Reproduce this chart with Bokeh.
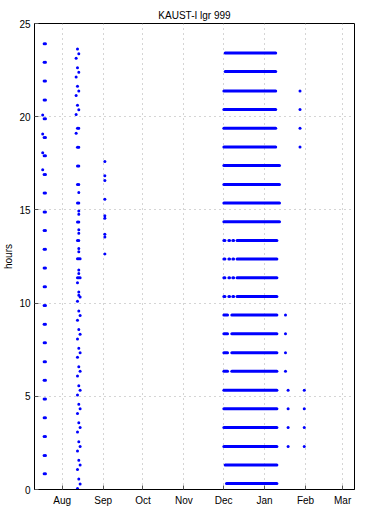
from bokeh.plotting import figure
from bokeh.models import FixedTicker, Range1d, ColumnDataSource
from bokeh.embed import file_html
from bokeh.resources import INLINE

# x values are days counted from 1 July
month_ticks = [31, 62, 92, 123, 153, 184, 215, 243]
month_labels = ["Aug", "Sep", "Oct", "Nov", "Dec", "Jan", "Feb", "Mar"]
hour_ticks = [0, 5, 10, 15, 20, 25]

# July column
jul_days_a = 17.3
jul_days_b = 18.3
jul_hours = [23.92, 22.92, 21.92, 20.90, 19.89, 18.89, 17.90, 16.90, 15.90, 14.89,
             13.89, 12.89, 11.88, 10.88, 9.87, 8.87, 7.87, 6.85, 5.86, 4.86,
             3.85, 2.85, 1.83, 0.84]
jul16_day = 16.2
jul16_hours = [20.09, 19.07, 18.07, 17.16]

# August column
aug_a_day = 41.5
aug_a_hours = [23.13, 22.13, 21.14, 20.12, 19.11]
aug_b_day = 42.5
aug_b_hours = [23.63, 22.63, 21.63, 20.62, 19.38, 18.36, 17.36, 16.36, 15.37, 14.35,
               13.36, 12.38, 11.36, 11.09, 10.10, 9.08, 8.08, 7.09, 6.09, 5.07,
               4.08, 3.08, 2.07, 1.07, 0.05]
aug_c_day = 43.5
aug_c_hours = [23.38, 22.38, 21.38, 20.37, 19.38, 18.36, 17.36, 16.36, 15.94, 15.37,
               14.94, 14.76, 14.35, 13.93, 13.75, 13.36, 12.93, 12.75, 12.38, 11.77,
               11.59, 11.36, 10.59, 10.42, 9.58, 8.58, 7.58, 6.59, 5.57, 4.58,
               3.58, 2.56, 1.57, 0.57]
aug_d_day = 44.5
aug_d_hours = [12.38, 11.36, 10.33, 9.33, 8.33, 7.33, 6.34, 5.32, 4.33, 3.33,
               2.31, 1.32, 0.30]

# September column
sep_day = 63.2
sep_hours = [17.59, 16.83, 16.58, 15.57, 14.68, 14.55, 13.70, 13.55, 12.64]

# January extras
jan_a_day = 199.8
jan_a_hours = [9.36, 8.35, 7.33, 6.34]
jan_b_day = 201.8
jan_b_hours = [5.33, 4.33, 3.33, 2.31]
jan_c_day = 210.8
jan_c_hours = [21.38, 20.39, 19.38, 18.38]
jan_d_day = 214.0
jan_d_hours = [5.33, 4.33, 3.33, 2.31]

# December-January daily runs (hour, first day, last day)
seg_hour = [23.42, 22.42, 21.38, 20.39, 19.38, 18.38, 17.38, 16.36, 15.37, 14.37,
            13.36, 13.36, 13.36, 13.36, 12.36, 12.36, 12.36, 12.36,
            11.36, 11.36, 11.36, 11.36, 10.36, 10.36, 10.36, 10.36,
            9.36, 9.36, 8.35, 8.35, 7.33, 7.33, 6.34, 6.34,
            5.33, 4.33, 3.33, 2.31, 1.32, 0.32]
seg_start = [154.2, 154.2, 153.2, 153.2, 153.2, 153.2, 153.2, 153.2, 153.2, 153.2,
             153.2, 157.0, 160.0, 163.2, 153.2, 157.0, 160.0, 163.2,
             153.2, 157.0, 160.0, 163.2, 153.2, 157.0, 160.0, 163.2,
             153.2, 159.2, 153.2, 159.2, 153.2, 159.2, 153.2, 159.2,
             153.2, 153.2, 153.2, 153.2, 154.2, 155.2]
seg_end = [192.4, 192.4, 192.4, 192.4, 192.4, 192.4, 195.3, 195.3, 195.3, 195.3,
           154.0, 157.5, 160.6, 193.3, 154.0, 157.5, 160.6, 193.3,
           154.0, 157.5, 160.6, 193.3, 154.0, 157.5, 160.6, 193.3,
           156.0, 193.3, 156.0, 193.3, 156.0, 193.3, 156.0, 193.3,
           193.3, 193.3, 193.3, 193.3, 193.3, 193.3]

groups = [([jul_days_a] * len(jul_hours), jul_hours),
          ([jul_days_b] * len(jul_hours), jul_hours),
          ([jul16_day] * len(jul16_hours), jul16_hours),
          ([aug_a_day] * len(aug_a_hours), aug_a_hours),
          ([aug_b_day] * len(aug_b_hours), aug_b_hours),
          ([aug_c_day] * len(aug_c_hours), aug_c_hours),
          ([aug_d_day] * len(aug_d_hours), aug_d_hours),
          ([sep_day] * len(sep_hours), sep_hours),
          ([jan_a_day] * len(jan_a_hours), jan_a_hours),
          ([jan_b_day] * len(jan_b_hours), jan_b_hours),
          ([jan_c_day] * len(jan_c_hours), jan_c_hours),
          ([jan_d_day] * len(jan_d_hours), jan_d_hours)]
xs, ys = [], []
for gx, gy in groups:
    xs += gx
    ys += gy

FONT = "Liberation Sans"
BLUE = "#0000ff"

p = figure(width=355, height=508, output_backend="svg", toolbar_location=None,
           x_range=Range1d(10, 252.0), y_range=Range1d(0, 25),
           title="KAUST-I lgr 999", y_axis_label="hours")
p.min_border_left = 27
p.min_border_right = 1
p.min_border_top = 23
p.min_border_bottom = 17
p.background_fill_color = "white"
p.border_fill_color = "white"
p.outline_line_color = "black"
p.outline_line_width = 1

p.title.text_font = FONT
p.title.text_font_size = "10px"
p.title.text_font_style = "normal"
p.title.align = "center"
p.title.standoff = 6
p.title.text_color = "black"

xt = FixedTicker(ticks=month_ticks)
yt = FixedTicker(ticks=hour_ticks)

for ax in p.xaxis:
    ax.ticker = xt
    ax.major_label_overrides = {t: l for t, l in zip(month_ticks, month_labels)}
for ax in p.yaxis:
    ax.ticker = yt
for ax in list(p.xaxis) + list(p.yaxis):
    ax.major_tick_in = 4
    ax.major_tick_out = 0
    ax.minor_tick_line_color = None
    ax.major_tick_line_color = "#555555"
    ax.axis_line_color = "black"
    ax.major_label_text_font = FONT
    ax.major_label_text_font_size = "10px"
    ax.major_label_text_color = "black"
    ax.axis_label_text_font = FONT
    ax.axis_label_text_font_size = "10px"
    ax.axis_label_text_font_style = "normal"
    ax.axis_label_text_color = "black"
for ax in p.xaxis:
    ax.major_label_standoff = 5
for ax in p.yaxis:
    ax.major_label_standoff = 4
    ax.axis_label_standoff = 2

p.xgrid.ticker = xt
p.ygrid.ticker = yt
for g in list(p.xgrid) + list(p.ygrid):
    g.grid_line_color = "#aaaaaa"
    g.grid_line_dash = "1 4"
    g.grid_line_width = 1

seg_src = ColumnDataSource(dict(h=seg_hour, x0=seg_start, x1=seg_end))
p.segment(x0="x0", y0="h", x1="x1", y1="h", source=seg_src,
          line_color=BLUE, line_width=3, line_cap="round")

pt_src = ColumnDataSource(dict(x=xs, y=ys))
p.scatter(x="x", y="y", source=pt_src, marker="circle", size=3.0,
          fill_color=BLUE, line_color=None)

open("out.html", "w").write(file_html(p, INLINE))
